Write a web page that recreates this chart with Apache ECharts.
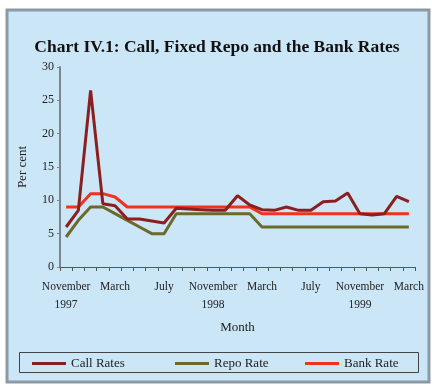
<!DOCTYPE html>
<html><head><meta charset="utf-8">
<script src="https://cdn.jsdelivr.net/npm/echarts@6/dist/echarts.min.js"></script>
<style>html,body{margin:0;padding:0;background:#fff}#c{width:434px;height:389px}</style>
</head><body><div id="c"></div>
<script>
const months = ['Nov','Dec','Jan','Feb','Mar','Apr','May','Jun','Jul','Aug','Sep','Oct',
  'Nov','Dec','Jan','Feb','Mar','Apr','May','Jun','Jul','Aug','Sep','Oct',
  'Nov','Dec','Jan','Feb','Mar'];
const tickLabels = {0:'November\n1997',4:'March',8:'July',12:'November\n1998',16:'March',20:'July',24:'November\n1999',28:'March'};
const callRates = [6.0,8.5,26.5,9.5,9.2,7.2,7.2,6.9,6.6,8.8,8.7,8.6,8.5,8.5,10.7,9.3,8.6,8.5,9.0,8.5,8.5,9.8,9.9,11.1,8.0,7.8,8.0,10.6,9.8];
const repoRate = [4.5,7.0,9.0,9.0,8.0,7.0,6.0,5.0,5.0,8.0,8.0,8.0,8.0,8.0,8.0,8.0,6.0,6.0,6.0,6.0,6.0,6.0,6.0,6.0,6.0,6.0,6.0,6.0,6.0];
const bankRate = [9.0,9.0,11.0,11.0,10.5,9.0,9.0,9.0,9.0,9.0,9.0,9.0,9.0,9.0,9.0,9.0,8.0,8.0,8.0,8.0,8.0,8.0,8.0,8.0,8.0,8.0,8.0,8.0,8.0];
const yTicks = [0,5,10,15,20,25,30];

const serif = '"Liberation Serif","DejaVu Serif",serif';
const chart = echarts.init(document.getElementById('c'));
const legendCommon = {top: 357, itemWidth: 34, itemHeight: 3, icon: 'rect',
  textStyle: {fontFamily: serif, fontSize: 13, color: '#222'}, padding: 0, selectedMode: false};
chart.setOption({
  animation: false,
  backgroundColor: '#ffffff',
  graphic: [
    {type: 'rect', z: -10, shape: {x: 7, y: 10, width: 422, height: 372},
      style: {fill: '#cbe6f7', stroke: '#8c9aa6', lineWidth: 3}},
    {type: 'rect', z: -5, shape: {x: 19.5, y: 352.5, width: 399, height: 20},
      style: {fill: 'transparent', stroke: '#444', lineWidth: 1}}
  ],
  title: {text: 'Chart IV.1: Call, Fixed Repo and the Bank Rates', left: 'center', top: 33,
    textStyle: {fontFamily: serif, fontWeight: 'bold', fontSize: 17.5, color: '#111'}},
  grid: {left: 60, right: 19, top: 67, bottom: 122, containLabel: false},
  legend: [
    Object.assign({left: 32, data: ['Call Rates']}, legendCommon),
    Object.assign({left: 175, data: ['Repo Rate']}, legendCommon),
    Object.assign({left: 305, data: ['Bank Rate']}, legendCommon)
  ],
  xAxis: {
    type: 'category', data: months, boundaryGap: true,
    name: 'Month', nameLocation: 'middle', nameGap: 54,
    nameTextStyle: {fontFamily: serif, fontSize: 13, color: '#222'},
    axisLine: {lineStyle: {color: '#555', width: 1}},
    axisTick: {show: true, interval: 0, length: 4, lineStyle: {color: '#555'}},
    axisLabel: {interval: 0, fontFamily: serif, fontSize: 11.5, color: '#222', lineHeight: 18, margin: 11,
      formatter: (v, i) => tickLabels[i] || ''}
  },
  yAxis: {
    type: 'value', min: yTicks[0], max: yTicks[yTicks.length-1], interval: 5,
    name: 'Per cent', nameLocation: 'middle', nameGap: 31,
    nameTextStyle: {fontFamily: serif, fontSize: 13, color: '#222'},
    splitLine: {show: false},
    axisLine: {show: true, lineStyle: {color: '#7a8590', width: 2}},
    axisTick: {show: true, length: 3, lineStyle: {color: '#7a8590'}},
    axisLabel: {fontFamily: serif, fontSize: 12, color: '#222', margin: 6}
  },
  series: [
    {name: 'Call Rates', type: 'line', data: callRates, symbol: 'none', z: 4,
      lineStyle: {color: '#8b1f1f', width: 3}, itemStyle: {color: '#8b1f1f'}},
    {name: 'Repo Rate', type: 'line', data: repoRate, symbol: 'none', z: 3,
      lineStyle: {color: '#6b6a2c', width: 3}, itemStyle: {color: '#6b6a2c'}},
    {name: 'Bank Rate', type: 'line', data: bankRate, symbol: 'none', z: 2,
      lineStyle: {color: '#f0321e', width: 3}, itemStyle: {color: '#f0321e'}}
  ]
});
</script></body></html>
